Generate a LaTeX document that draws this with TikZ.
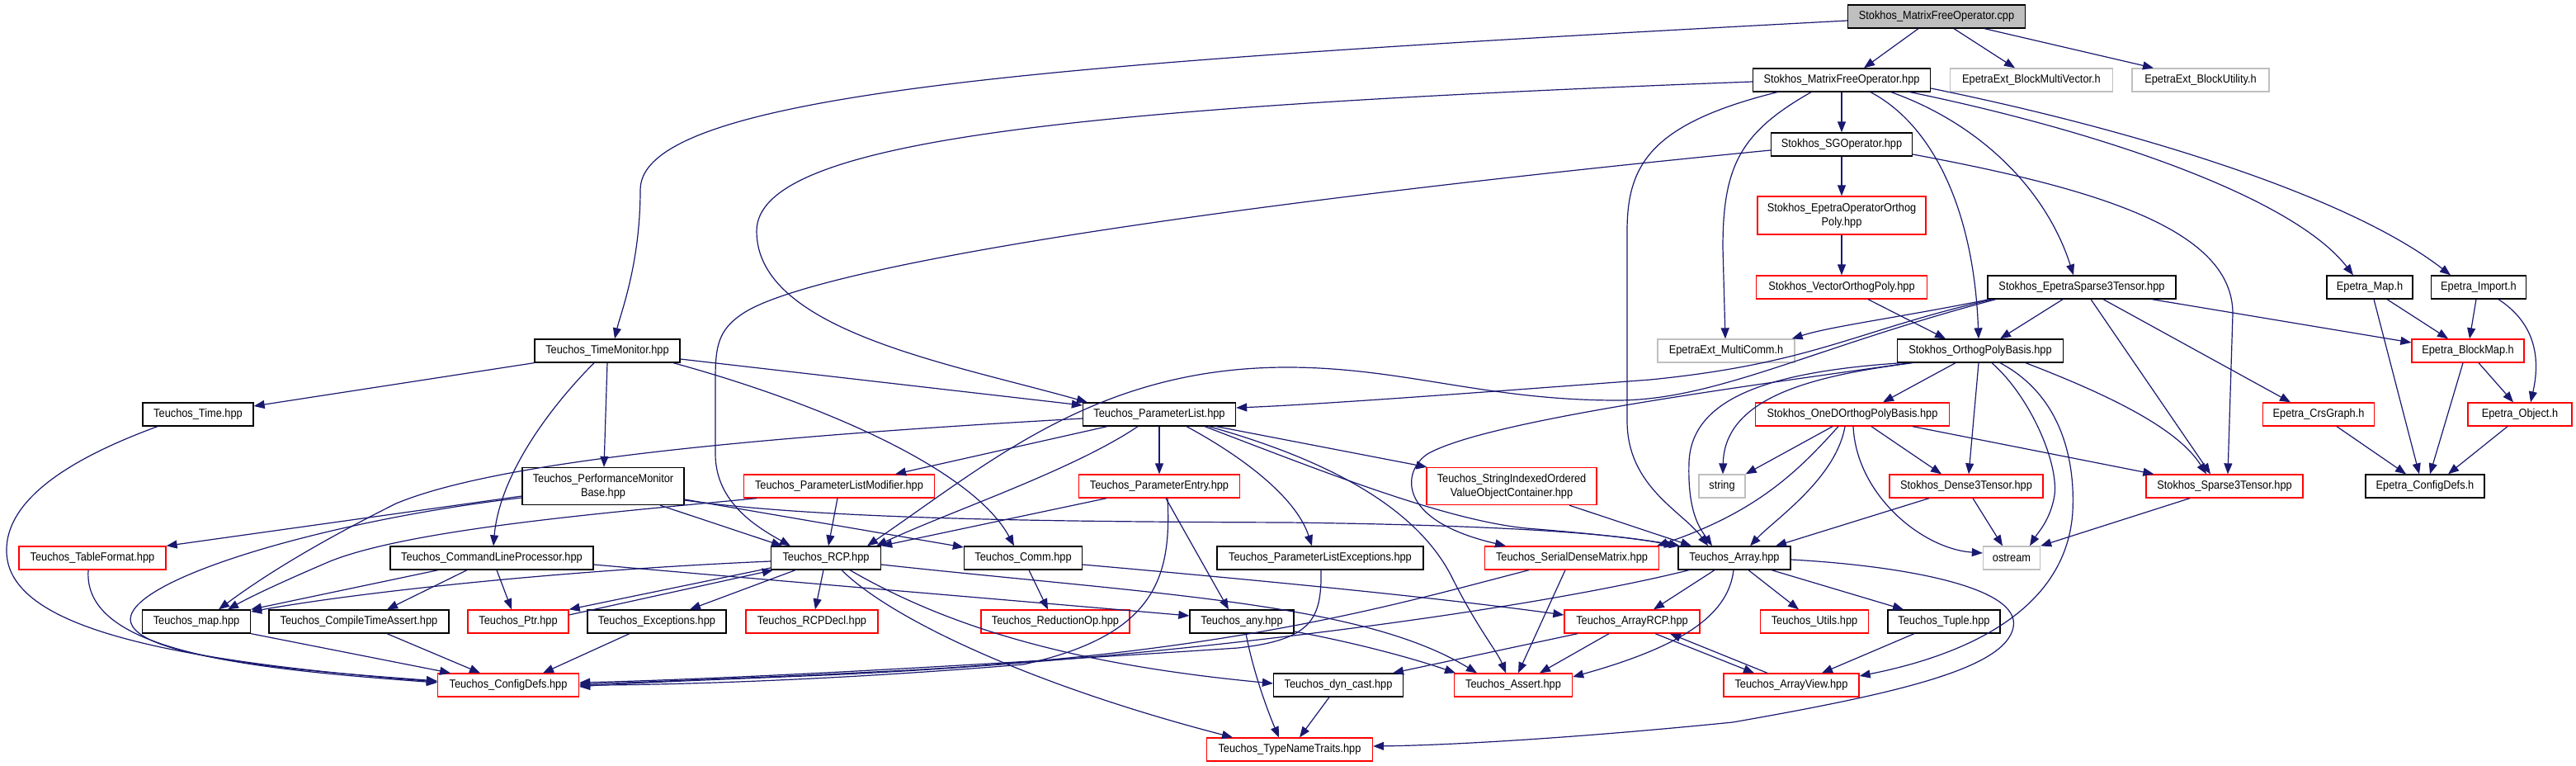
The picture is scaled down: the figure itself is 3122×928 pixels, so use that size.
\documentclass[tikz,border=0pt]{standalone}
\usepackage{fontspec}
\setmainfont{Liberation Sans}[FakeStretch=0.9]
\usetikzlibrary{arrows.meta}
\definecolor{edgecol}{HTML}{191970}
\definecolor{greyb}{HTML}{BFBFBF}
\tikzset{
  box/.style={draw=black, line width=1.3pt, minimum height=28pt, inner sep=0pt, align=center, font=\fontsize{14.2pt}{16.7pt}\selectfont},
  redbox/.style={box, draw=red},
  graybox/.style={box, draw=greyb},
  rootbox/.style={box, fill=greyb},
  edg/.style={draw=edgecol, line width=1.2pt, -{Triangle[length=13pt,width=10pt]}}
}
\begin{document}
\begin{tikzpicture}[x=1pt,y=-1pt]
\useasboundingbox[fill=white] (0,0) rectangle (3122,928);
% nodes
\node[rootbox, minimum width=215pt] (root) at (2347,20) {Stokhos\_MatrixFreeOperator.cpp};
\node[box, minimum width=215pt] (mfo) at (2232,97) {Stokhos\_MatrixFreeOperator.hpp};
\node[graybox, minimum width=197pt] (bmv) at (2462,97) {EpetraExt\_BlockMultiVector.h};
\node[graybox, minimum width=166pt] (bu) at (2667,97) {EpetraExt\_BlockUtility.h};
\node[box, minimum width=171pt] (sgo) at (2232,175) {Stokhos\_SGOperator.hpp};
\node[redbox, minimum width=204pt, minimum height=46pt] (eoop) at (2232,261) {Stokhos\_EpetraOperatorOrthog\\Poly.hpp};
\node[redbox, minimum width=207pt] (vop) at (2232,348) {Stokhos\_VectorOrthogPoly.hpp};
\node[box, minimum width=228pt] (est) at (2523,348) {Stokhos\_EpetraSparse3Tensor.hpp};
\node[box, minimum width=104pt] (emap) at (2872,348) {Epetra\_Map.h};
\node[box, minimum width=115pt] (imp) at (3004,348) {Epetra\_Import.h};
\node[box, minimum width=176pt] (tm) at (736,425) {Teuchos\_TimeMonitor.hpp};
\node[graybox, minimum width=166pt] (mc) at (2092,425) {EpetraExt\_MultiComm.h};
\node[box, minimum width=201pt] (opb) at (2400,425) {Stokhos\_OrthogPolyBasis.hpp};
\node[redbox, minimum width=136pt] (bm) at (2991,425) {Epetra\_BlockMap.h};
\node[box, minimum width=134pt] (ttime) at (240,502) {Teuchos\_Time.hpp};
\node[box, minimum width=185pt] (pl) at (1405,502) {Teuchos\_ParameterList.hpp};
\node[redbox, minimum width=235pt] (oned) at (2245,502) {Stokhos\_OneDOrthogPolyBasis.hpp};
\node[redbox, minimum width=135pt] (crs) at (2810,502) {Epetra\_CrsGraph.h};
\node[redbox, minimum width=126pt] (obj) at (3054,502) {Epetra\_Object.h};
\node[box, minimum width=196pt, minimum height=45pt] (pmb) at (731,589) {Teuchos\_PerformanceMonitor\\Base.hpp};
\node[redbox, minimum width=231pt] (plm) at (1017,589) {Teuchos\_ParameterListModifier.hpp};
\node[redbox, minimum width=195pt] (pe) at (1405,589) {Teuchos\_ParameterEntry.hpp};
\node[redbox, minimum width=206pt, minimum height=45pt] (sio) at (1832,589) {Teuchos\_StringIndexedOrdered\\ValueObjectContainer.hpp};
\node[graybox, minimum width=56pt] (str) at (2087,589) {string};
\node[redbox, minimum width=186pt] (d3) at (2383,589) {Stokhos\_Dense3Tensor.hpp};
\node[redbox, minimum width=190pt] (s3) at (2696,589) {Stokhos\_Sparse3Tensor.hpp};
\node[box, minimum width=144pt] (ecd) at (2939,589) {Epetra\_ConfigDefs.h};
\node[redbox, minimum width=178pt] (tf) at (112,676) {Teuchos\_TableFormat.hpp};
\node[box, minimum width=246pt] (clp) at (596,676) {Teuchos\_CommandLineProcessor.hpp};
\node[box, minimum width=133pt] (rcp) at (1001,676) {Teuchos\_RCP.hpp};
\node[box, minimum width=143pt] (comm) at (1240,676) {Teuchos\_Comm.hpp};
\node[box, minimum width=250pt] (ple) at (1600,676) {Teuchos\_ParameterListExceptions.hpp};
\node[redbox, minimum width=211pt] (sdm) at (1905,676) {Teuchos\_SerialDenseMatrix.hpp};
\node[box, minimum width=136pt] (arr) at (2102,676) {Teuchos\_Array.hpp};
\node[graybox, minimum width=69pt] (os) at (2438,676) {ostream};
\node[box, minimum width=131pt] (tmap) at (238,753) {Teuchos\_map.hpp};
\node[box, minimum width=218pt] (cta) at (435,753) {Teuchos\_CompileTimeAssert.hpp};
\node[redbox, minimum width=122pt] (ptr) at (628,753) {Teuchos\_Ptr.hpp};
\node[box, minimum width=168pt] (exc) at (796,753) {Teuchos\_Exceptions.hpp};
\node[redbox, minimum width=160pt] (rcpd) at (984,753) {Teuchos\_RCPDecl.hpp};
\node[redbox, minimum width=180pt] (rop) at (1279,753) {Teuchos\_ReductionOp.hpp};
\node[box, minimum width=126pt] (any) at (1505,753) {Teuchos\_any.hpp};
\node[redbox, minimum width=164pt] (arcp) at (1978,753) {Teuchos\_ArrayRCP.hpp};
\node[redbox, minimum width=131pt] (utl) at (2199,753) {Teuchos\_Utils.hpp};
\node[box, minimum width=136pt] (tup) at (2356,753) {Teuchos\_Tuple.hpp};
\node[redbox, minimum width=171pt] (cd) at (616,830) {Teuchos\_ConfigDefs.hpp};
\node[box, minimum width=157pt] (dyn) at (1622,830) {Teuchos\_dyn\_cast.hpp};
\node[redbox, minimum width=143pt] (asr) at (1834,830) {Teuchos\_Assert.hpp};
\node[redbox, minimum width=164pt] (av) at (2171,830) {Teuchos\_ArrayView.hpp};
\node[redbox, minimum width=201pt] (tnt) at (1563,908) {Teuchos\_TypeNameTraits.hpp};
% edges from root
\draw[edg] ([xshift=-22]root.south) -- ([xshift=27]mfo.north);
\draw[edg] ([xshift=21]root.south) -- ([xshift=-20]bmv.north);
\draw[edg] ([xshift=58]root.south) -- ([xshift=-57]bu.north);
\draw[edg] ([yshift=-5]root.west) .. controls (1300,75) and (776,110) .. (776,230) .. controls (776,320) and (752,380) .. ([xshift=9]tm.north);
% MFO
\draw[edg] ([yshift=-2]mfo.west) .. controls (1300,130) and (917,170) .. (917,280) .. controls (917,400) and (1150,440) .. ([xshift=6]pl.north west);
\draw[edg] (mfo.south) -- (sgo.north);
\draw[edg] ([xshift=-78]mfo.south) .. controls (2000,150) and (1972,200) .. (1972,280) -- (1972,510) .. controls (1972,590) and (2040,620) .. ([xshift=-32]arr.north);
\draw[edg] ([xshift=-37]mfo.south) .. controls (2110,160) and (2088,200) .. (2088,300) -- ([xshift=-1]mc.north);
\draw[edg] ([xshift=35]mfo.south) .. controls (2340,150) and (2392,250) .. ([xshift=-2]opb.north);
\draw[edg] ([xshift=60]mfo.south) .. controls (2400,150) and (2480,230) .. ([xshift=-10]est.north);
\draw[edg] ([xshift=83]mfo.south) .. controls (2550,160) and (2780,240) .. ([xshift=-20]emap.north);
\draw[edg] ([yshift=-10]mfo.east) .. controls (2600,160) and (2850,240) .. ([xshift=-34]imp.north);
% SGOperator
\draw[edg] (sgo.south) -- (eoop.north);
\draw[edg] ([yshift=-7]sgo.west) .. controls (1500,245) and (990,320) .. (900,380) .. controls (870,400) and (867,420) .. (867,460) -- (867,550) .. controls (867,610) and (920,640) .. ([xshift=-43]rcp.north);
\draw[edg] ([yshift=-12]sgo.east) .. controls (2550,230) and (2706,280) .. (2706,380) -- ([xshift=4]s3.north);
\draw[edg] (eoop.south) -- (vop.north);
\draw[edg] ([xshift=32]vop.south) -- ([xshift=-42]opb.north);
% EpetraSparse3Tensor
\draw[edg] ([xshift=-112]est.south) .. controls (2300,385) and (2220,395) .. ([xshift=-4]mc.north east);
\draw[edg] ([xshift=-104]est.south) .. controls (2200,420) and (2080,485) .. (1960,485) .. controls (1800,485) and (1700,445) .. (1560,445) .. controls (1330,445) and (1200,560) .. ([xshift=50]rcp.north);
\draw[edg] ([xshift=-108]est.south) .. controls (2250,400) and (2200,440) .. (2000,460) .. controls (1800,475) and (1600,490) .. ([yshift=8]pl.east);
\draw[edg] ([xshift=-23]est.south) -- ([xshift=24]opb.north);
\draw[edg] ([xshift=11]est.south) -- ([xshift=-17]s3.north);
\draw[edg] ([xshift=26]est.south) -- ([xshift=-34]crs.north);
\draw[edg] ([xshift=85]est.south) -- ([yshift=10]bm.west);
% Epetra
\draw[edg] ([xshift=21]emap.south) -- ([xshift=-24]bm.north);
\draw[edg] ([xshift=5]emap.south) -- ([xshift=-7]ecd.north);
\draw[edg] ([xshift=-3]imp.south) -- ([xshift=2]bm.north);
\draw[edg] ([xshift=24]imp.south) .. controls (3070,390) and (3080,430) .. ([xshift=13]obj.north);
\draw[edg] ([xshift=-6]bm.south) -- ([xshift=6]ecd.north);
\draw[edg] ([xshift=13]bm.south) -- ([xshift=-8]obj.north);
\draw[edg] ([xshift=22]crs.south) -- ([xshift=-23]ecd.north);
\draw[edg] ([xshift=-15]obj.south) -- ([xshift=28]ecd.north);
% OrthogPolyBasis
\draw[edg] ([xshift=-85]opb.south) .. controls (2100,470) and (1800,510) .. (1730,550) .. controls (1700,570) and (1690,630) .. ([xshift=-80]sdm.north);
\draw[edg] ([xshift=-95]opb.south) .. controls (2150,450) and (2050,480) .. (2047,560) .. controls (2045,620) and (2060,640) .. ([xshift=-27]arr.north);
\draw[edg] ([xshift=-82]opb.south) .. controls (2200,455) and (2090,480) .. ([xshift=1]str.north);
\draw[edg] ([xshift=-30]opb.south) -- ([xshift=37]oned.north);
\draw[edg] ([xshift=-2]opb.south) -- ([xshift=3]d3.north);
\draw[edg] ([xshift=14]opb.south) .. controls (2460,480) and (2495,560) .. (2490,600) .. controls (2485,630) and (2470,645) .. ([xshift=22]os.north);
\draw[edg] ([xshift=24]opb.south) .. controls (2500,480) and (2515,560) .. (2512,620) .. controls (2505,730) and (2400,790) .. ([yshift=11]av.east);
\draw[edg] ([xshift=55]opb.south) .. controls (2560,480) and (2640,520) .. ([xshift=-22]s3.north);
% OneD
\draw[edg] ([xshift=-24]oned.south) -- (str.north east);
\draw[edg] ([xshift=-17]oned.south) .. controls (2180,570) and (2130,620) .. ([xshift=-3]sdm.north east);
\draw[edg] ([xshift=-9]oned.south) .. controls (2225,580) and (2150,630) .. ([xshift=19]arr.north);
\draw[edg] ([xshift=1]oned.south) .. controls (2250,600) and (2330,665) .. ([yshift=6]os.west);
\draw[edg] ([xshift=23]oned.south) -- ([xshift=-30]d3.north);
\draw[edg] ([xshift=73]oned.south) -- ([xshift=10]s3.north west);
\draw[edg] ([xshift=-45]d3.south) -- ([xshift=50]arr.north);
\draw[edg] ([xshift=8]d3.south) -- ([xshift=-11]os.north);
\draw[edg] ([xshift=-42]s3.south) -- (os.north east);
\draw[edg] ([xshift=70]sio.south) -- ([xshift=-52]arr.north);
% ParameterList
\draw[edg] ([yshift=-5]pl.west) .. controls (900,530) and (600,560) .. (480,610) .. controls (400,650) and (330,690) .. ([xshift=27]tmap.north);
\draw[edg] ([xshift=-63]pl.south) -- ([xshift=68]plm.north);
\draw[edg] ([xshift=-26]pl.south) .. controls (1300,570) and (1150,620) .. ([xshift=61]rcp.north);
\draw[edg] (pl.south) -- (pe.north);
\draw[edg] ([xshift=33]pl.south) .. controls (1500,550) and (1570,600) .. ([xshift=-10]ple.north);
\draw[edg] ([xshift=69]pl.south) -- ([xshift=1]sio.north west);
\draw[edg] ([xshift=55]pl.south) .. controls (1600,570) and (1750,630) .. (1850,640) .. controls (1950,648) and (2000,655) .. ([xshift=-66]arr.north);
\draw[edg] ([xshift=60]pl.south) .. controls (1620,560) and (1720,620) .. (1760,700) .. controls (1790,760) and (1815,790) .. ([xshift=-9]asr.north);
\draw[edg] ([xshift=-2]plm.south) -- ([xshift=3]rcp.north);
\draw[edg] ([xshift=-100]plm.south) .. controls (750,620) and (500,640) .. (400,680) .. controls (330,710) and (300,725) .. ([xshift=38]tmap.north);
\draw[edg] ([xshift=-64]pe.south) -- (rcp.north east);
\draw[edg] ([xshift=8]pe.south) -- ([xshift=-16]any.north);
\draw[edg] ([xshift=10]pe.south) .. controls (1420,700) and (1400,770) .. (1240,805) .. controls (1000,825) and (800,830) .. (cd.east);
% TimeMonitor
\draw[edg] (tm.south west) -- ([yshift=10]ttime.east);
\draw[edg] (tm.south) -- ([xshift=1]pmb.north);
\draw[edg] ([xshift=-16]tm.south) .. controls (660,500) and (605,580) .. ([xshift=2]clp.north);
\draw[edg] ([yshift=-10]tm.east) -- ([yshift=11]pl.west);
\draw[edg] ([xshift=80]tm.south) .. controls (1000,490) and (1180,570) .. ([xshift=-11]comm.north);
% PerformanceMonitorBase
\draw[edg] ([yshift=-12]pmb.west) -- (tf.north east);
\draw[edg] ([yshift=-14]pmb.west) .. controls (400,630) and (160,700) .. (158,750) .. controls (158,800) and (400,815) .. ([yshift=5]cd.west);
\draw[edg] ([xshift=69]pmb.south) -- ([xshift=-53]rcp.north);
\draw[edg] ([yshift=-16]pmb.east) -- ([yshift=13]comm.west);
\draw[edg] ([yshift=-17]pmb.east) .. controls (1000,630) and (1300,632) .. (1560,633) .. controls (1800,636) and (1950,645) .. ([xshift=-72]arr.north);
% Time, TableFormat
\draw[edg] ([xshift=-49]ttime.south) .. controls (100,550) and (5,600) .. (8,670) .. controls (12,760) and (200,800) .. ([yshift=4]cd.west);
\draw[edg] ([xshift=-5]tf.south) .. controls (100,790) and (300,810) .. ([yshift=3]cd.west);
% CommandLineProcessor
\draw[edg] ([xshift=-65]clp.south) -- (tmap.north east);
\draw[edg] ([xshift=-30]clp.south) -- ([xshift=34]cta.north);
\draw[edg] ([xshift=6]clp.south) -- ([xshift=-8]ptr.north);
\draw[edg] ([yshift=-8]clp.east) .. controls (900,700) and (1200,725) .. ([yshift=7]any.west);
% RCP
\draw[edg] ([yshift=-4]rcp.west) .. controls (700,690) and (450,715) .. ([yshift=12]tmap.east);
\draw[edg] ([yshift=-12]rcp.west) -- (ptr.north east);
\draw[edg] ([yshift=8]ptr.east) -- ([xshift=3]rcp.south west);
\draw[edg] ([xshift=-37]rcp.south) -- ([xshift=40]exc.north);
\draw[edg] ([xshift=-3]rcp.south) -- ([xshift=4]rcpd.north);
\draw[edg] ([xshift=19]rcp.south) .. controls (1080,750) and (1250,830) .. ([xshift=-69]tnt.north);
\draw[edg] ([xshift=29]rcp.south) .. controls (1150,760) and (1300,805) .. ([yshift=2]dyn.west);
\draw[edg] ([yshift=-8]rcp.east) .. controls (1400,720) and (1650,730) .. ([xshift=-44]asr.north);
% Comm, any, dyn_cast
\draw[edg] ([xshift=7]comm.south) -- ([xshift=-9]rop.north);
\draw[edg] ([yshift=-8]comm.east) .. controls (1550,705) and (1750,725) .. ([yshift=8]arcp.west);
\draw[edg] ([yshift=-12]any.east) .. controls (1650,780) and (1720,800) .. ([xshift=-70]asr.north);
\draw[edg] ([xshift=5]any.south) .. controls (1520,820) and (1540,870) .. ([xshift=-13]tnt.north);
\draw[edg] ([xshift=-11]dyn.south) -- ([xshift=12]tnt.north);
% Array
\draw[edg] ([yshift=-2]arr.east) .. controls (2300,685) and (2450,710) .. (2440,760) .. controls (2430,810) and (2300,840) .. (2100,875) .. controls (1900,895) and (1750,903) .. ([yshift=4]tnt.east);
\draw[edg] ([xshift=-55]arr.south) .. controls (1850,740) and (1400,800) .. (1000,818) .. controls (850,824) and (750,828) .. ([yshift=-2]cd.east);
\draw[edg] ([xshift=1]ple.south) .. controls (1602,750) and (1590,775) .. (1500,785) .. controls (1200,805) and (900,822) .. ([yshift=3]cd.east);
\draw[edg] ([xshift=-52]sdm.south) .. controls (1700,730) and (1500,790) .. (1100,812) .. controls (900,822) and (780,826) .. ([yshift=1]cd.east);
\draw[edg] ([xshift=-24]arr.south) -- ([xshift=26]arcp.north);
\draw[edg] ([xshift=17]arr.south) -- ([xshift=-19]utl.north);
\draw[edg] ([xshift=45]arr.south) -- ([xshift=-49]tup.north);
\draw[edg] ([xshift=-1]arr.south) .. controls (2095,740) and (2050,780) .. ([yshift=10]asr.east);
\draw[edg] ([xshift=-8]sdm.south) -- ([xshift=6]asr.north);
% ArrayRCP, ArrayView, Tuple
\draw[edg] ([xshift=-66]arcp.south) -- ([xshift=66]dyn.north);
\draw[edg] ([xshift=-28]arcp.south) -- ([xshift=32]asr.north);
\draw[edg] ([xshift=28]arcp.south) -- ([xshift=-45]av.north);
\draw[edg] ([xshift=-29]av.north) -- ([xshift=46]arcp.south);
\draw[edg] ([xshift=-36]tup.south) -- ([xshift=37]av.north);
% to Teuchos_ConfigDefs
\draw[edg] (tmap.south east) -- ([xshift=-70]cd.north);
\draw[edg] ([xshift=34]cta.south) -- ([xshift=-34]cd.north);
\draw[edg] ([xshift=-33]exc.south) -- ([xshift=42]cd.north);
\end{tikzpicture}
\end{document}
